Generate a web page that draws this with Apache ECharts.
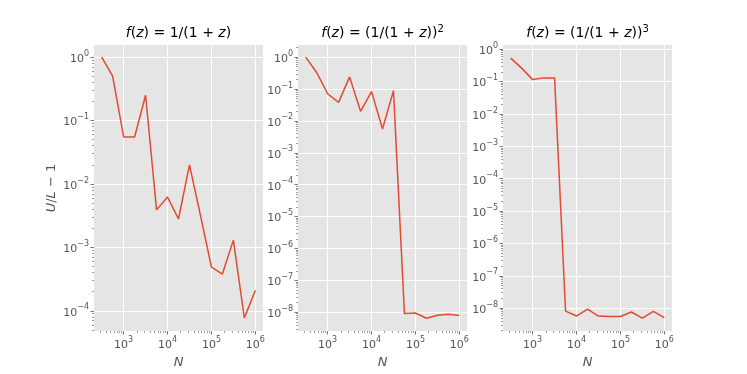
<!DOCTYPE html>
<html>
<head>
<meta charset="utf-8">
<script src="https://cdn.jsdelivr.net/npm/echarts@6/dist/echarts.min.js"></script>
<style>
  html, body { margin: 0; padding: 0; background: #fff; }
  #chart { width: 747px; height: 374px; }
</style>
</head>
<body>
<div id="chart"></div>
<script>
// sample sizes N (logspace 10^2.5 .. 10^6, quarter decades)
const N = [316, 562, 1000, 1778, 3162, 5623, 10000, 17783, 31623, 56234,
           100000, 177828, 316228, 562341, 1000000];

// U/L - 1 for each integrand
const err1 = [1.0, 0.50, 0.055, 0.055, 0.25, 0.0039, 0.0062, 0.0028, 0.020, 0.0032,
              0.00049, 0.00038, 0.0013, 0.000077, 0.00021];
const err2 = [1.0, 0.33, 0.071, 0.038, 0.24, 0.020, 0.083, 0.0056, 0.089, 9.1e-9,
              9.5e-9, 6.5e-9, 8.1e-9, 8.7e-9, 7.9e-9];
const err3 = [0.53, 0.26, 0.115, 0.13, 0.13, 8.1e-9, 5.7e-9, 9.3e-9, 5.7e-9, 5.5e-9,
              5.5e-9, 7.6e-9, 4.9e-9, 7.9e-9, 5.1e-9];

const titles = [
  '{i|f}({i|z}) = 1/(1 + {i|z})',
  '{i|f}({i|z}) = (1/(1 + {i|z})){s|2}',
  '{i|f}({i|z}) = (1/(1 + {i|z})){s|3}'
];

const xTicks = [3, 4, 5, 6];
const yTicks1 = [-4, -3, -2, -1, 0];
const yTicks2 = [-8, -7, -6, -5, -4, -3, -2, -1, 0];

const series = [err1, err2, err3];
const yTicks = [yTicks1, yTicks2, yTicks2];

const panels = [
  { left: 94, xr: [2.325, 6.175], yr: [-4.32, 0.19] },
  { left: 298, xr: [2.325, 6.175], yr: [-8.59, 0.38] },
  { left: 503, xr: [2.325, 6.175], yr: [-8.71, 0.13] }
];
const plotW = 169, plotTop = 45, plotBottom = 42;

const grey = '#555';
const lg = Math.log10;

function minorTicks(r) {
  const out = [];
  for (let e = Math.floor(r[0]) - 1; e <= Math.ceil(r[1]); e++) {
    for (let k = 2; k <= 9; k++) {
      const v = e + lg(k);
      if (v >= r[0] && v <= r[1]) out.push(v);
    }
  }
  return out;
}

const tickRich = {
  b: { fontSize: 11, color: grey, fontFamily: 'DejaVu Sans', verticalAlign: 'bottom', lineHeight: 15 },
  s: { fontSize: 8, color: grey, fontFamily: 'DejaVu Sans', verticalAlign: 'top', lineHeight: 8 }
};
function powLabel(v) {
  const e = Math.round(v);
  return '{b|10}{s|' + (e < 0 ? '\u2212' + (-e) : e) + '}';
}

const grids = [], xAxes = [], yAxes = [], seriesList = [], graphics = [];

panels.forEach((p, i) => {
  grids.push({ left: p.left, width: plotW, top: plotTop, bottom: plotBottom,
               show: true, backgroundColor: '#E5E5E5', borderWidth: 0 });
  // major x axis
  xAxes.push({
    type: 'value', gridIndex: i, min: p.xr[0], max: p.xr[1], position: 'bottom',
    name: '{i|N}', nameLocation: 'middle', nameGap: 21,
    nameTextStyle: { rich: { i: { fontStyle: 'italic', fontSize: 13, color: grey, fontFamily: 'DejaVu Sans' } } },
    axisLine: { show: false, onZero: false },
    axisTick: { show: true, length: 3.5, lineStyle: { color: grey, width: 0.8 }, customValues: xTicks },
    axisLabel: { show: true, margin: 5, customValues: xTicks, formatter: powLabel, rich: tickRich },
    splitLine: { show: true, lineStyle: { color: '#fff', width: 1 } }
  });
  // minor x ticks
  xAxes.push({
    type: 'value', gridIndex: i, min: p.xr[0], max: p.xr[1], position: 'bottom',
    axisLine: { show: false, onZero: false },
    axisTick: { show: true, length: 2, lineStyle: { color: grey, width: 0.6 }, customValues: minorTicks(p.xr) },
    axisLabel: { show: false }, splitLine: { show: false }
  });
  const yAx = {
    type: 'value', gridIndex: i, min: p.yr[0], max: p.yr[1], position: 'left',
    axisLine: { show: false, onZero: false },
    axisTick: { show: true, length: 3.5, lineStyle: { color: grey, width: 0.8 }, customValues: yTicks[i] },
    axisLabel: { show: true, margin: 5, customValues: yTicks[i], formatter: powLabel, rich: tickRich },
    splitLine: { show: true, lineStyle: { color: '#fff', width: 1 } }
  };
  if (i === 0) {
    yAx.name = '{i|U}/{i|L} \u2212 1';
    yAx.nameLocation = 'middle';
    yAx.nameGap = 36;
    yAx.nameTextStyle = { fontSize: 13, color: grey, fontFamily: 'DejaVu Sans',
      rich: { i: { fontStyle: 'italic', fontSize: 13, color: grey, fontFamily: 'DejaVu Sans' } } };
  }
  yAxes.push(yAx);
  yAxes.push({
    type: 'value', gridIndex: i, min: p.yr[0], max: p.yr[1], position: 'left',
    axisLine: { show: false, onZero: false },
    axisTick: { show: true, length: 2, lineStyle: { color: grey, width: 0.6 }, customValues: minorTicks(p.yr) },
    axisLabel: { show: false }, splitLine: { show: false }
  });
  seriesList.push({
    type: 'line', xAxisIndex: 2 * i, yAxisIndex: 2 * i,
    data: N.map((n, k) => [lg(n), lg(series[i][k])]),
    showSymbol: false, lineStyle: { color: '#E24A33', width: 1.5 }, itemStyle: { color: '#E24A33' }
  });
  graphics.push({
    type: 'text', x: p.left + plotW / 2, y: 33,
    style: {
      text: titles[i], align: 'center', verticalAlign: 'middle',
      fontSize: 14, lineHeight: 18, fill: '#000', fontFamily: 'DejaVu Sans',
      rich: {
        i: { fontStyle: 'italic', fontSize: 14, lineHeight: 18, fontFamily: 'DejaVu Sans' },
        s: { fontSize: 10, fontFamily: 'DejaVu Sans', verticalAlign: 'top', lineHeight: 8 }
      }
    }
  });
});

const chart = echarts.init(document.getElementById('chart'));
chart.setOption({
  animation: false,
  backgroundColor: '#fff',
  grid: grids,
  xAxis: xAxes,
  yAxis: yAxes,
  series: seriesList,
  graphic: graphics
});
</script>
</body>
</html>
